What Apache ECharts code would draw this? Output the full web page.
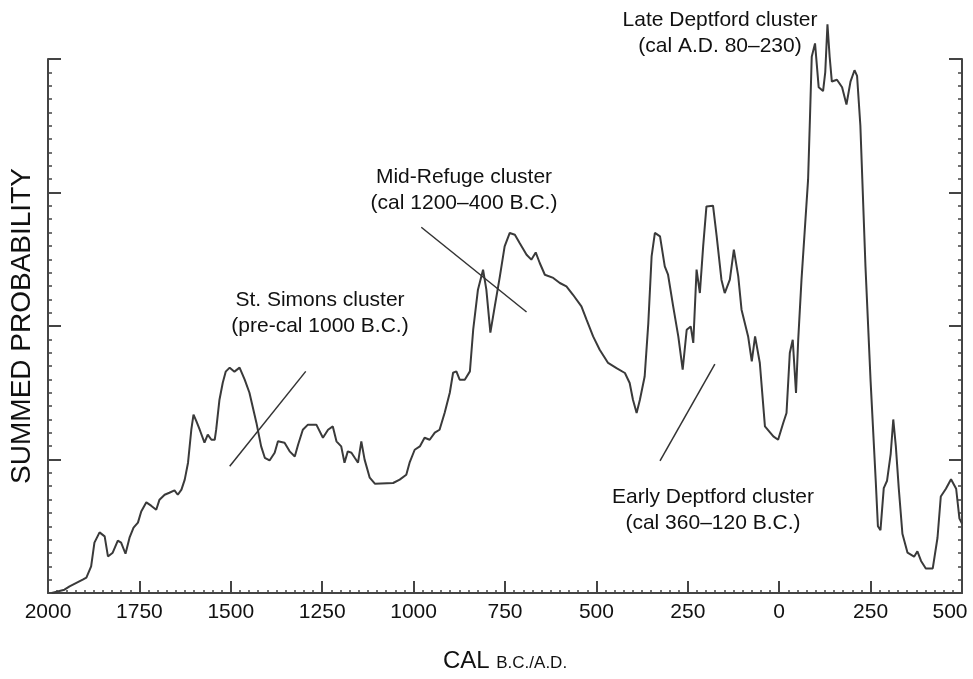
<!DOCTYPE html>
<html><head><meta charset="utf-8">
<script src="https://cdn.jsdelivr.net/npm/echarts@6/dist/echarts.min.js"></script>
<style>html,body{margin:0;padding:0;background:#fff}#c{width:973px;height:679px}</style>
</head><body><div id="c"></div>
<script>
// calendar years (B.C. negative, A.D. positive)
const years = [-1990,-1955,-1941,-1905,-1895,-1882,-1873,-1859,-1845,-1836,
-1823,-1809,-1800,-1788,-1777,-1766,-1754,-1745,-1731,-1718,
-1704,-1695,-1681,-1668,-1654,-1645,-1635,-1626,-1617,-1608,
-1602,-1594,-1585,-1572,-1563,-1553,-1544,-1540,-1531,-1522,
-1514,-1503,-1490,-1476,-1462,-1449,-1430,-1417,-1407,-1394,
-1380,-1371,-1353,-1339,-1325,-1316,-1303,-1289,-1266,-1248,
-1234,-1221,-1211,-1198,-1189,-1180,-1170,-1161,-1152,-1143,
-1138,-1134,-1120,-1106,-1056,-1038,-1020,-1011,-997,-983,
-970,-956,-942,-929,-915,-901,-892,-883,-874,-860,
-846,-837,-824,-810,-801,-790,-778,-764,-751,-737,
-723,-710,-691,-678,-666,-655,-641,-618,-600,-582,
-564,-541,-527,-509,-491,-468,-445,-422,-409,-400,
-390,-381,-368,-358,-349,-340,-326,-313,-304,-290,
-276,-264,-253,-242,-235,-226,-217,-208,-199,-181,
-171,-158,-149,-135,-124,-112,-103,-85,-75,-66,
-53,-39,-16,-3,11,20,29,37,46,52,
61,70,79,84,89,98,108,120,126,132,
138,144,158,172,184,195,206,213,222,236,
250,264,270,277,286,295,305,312,319,327,
337,351,369,378,388,401,420,433,442,456,
470,484,493,500];
// summed probability (in major-tick units)
const prob = [0,0.025,0.05,0.10,0.115,0.20,0.377,0.454,0.424,0.274,
0.302,0.392,0.377,0.294,0.414,0.489,0.527,0.611,0.679,0.654,
0.624,0.699,0.736,0.751,0.769,0.736,0.774,0.849,0.976,1.223,
1.336,1.285,1.223,1.126,1.186,1.148,1.148,1.223,1.448,1.575,
1.658,1.688,1.658,1.688,1.598,1.500,1.276,1.098,1.013,0.993,
1.051,1.136,1.126,1.061,1.023,1.111,1.223,1.261,1.261,1.163,
1.223,1.248,1.136,1.098,0.976,1.061,1.051,1.013,0.976,1.136,
1.148,0.999,0.864,0.819,0.824,0.849,0.886,0.976,1.073,1.098,
1.163,1.148,1.201,1.223,1.350,1.500,1.650,1.660,1.598,1.598,
1.660,1.972,2.272,2.422,2.272,1.950,2.147,2.372,2.596,2.697,
2.684,2.622,2.534,2.497,2.551,2.472,2.384,2.360,2.322,2.297,
2.234,2.147,2.047,1.922,1.822,1.723,1.685,1.648,1.573,1.448,
1.348,1.448,1.622,2.022,2.521,2.697,2.671,2.446,2.384,2.147,
1.922,1.673,1.972,1.997,1.873,2.422,2.247,2.596,2.896,2.901,
2.671,2.347,2.247,2.347,2.572,2.372,2.122,1.922,1.735,1.922,
1.723,1.248,1.173,1.148,1.273,1.348,1.798,1.897,1.498,1.897,
2.347,2.721,3.096,3.545,4.017,4.117,3.788,3.760,3.902,4.260,
4.017,3.831,3.845,3.788,3.659,3.831,3.916,3.873,3.502,2.444,
1.587,0.843,0.500,0.471,0.786,0.841,1.043,1.300,1.100,0.786,
0.444,0.302,0.272,0.312,0.240,0.184,0.184,0.414,0.723,0.781,
0.852,0.781,0.557,0.52];
const xTickLabels = ['2000','1750','1500','1250','1000','750','500','250','0','250','500'];
const yAxisTitle = 'SUMMED PROBABILITY';
const xAxisTitle = ['CAL ', 'B.C./A.D.'];
const annotationTexts = [
  ['St. Simons cluster', '(pre-cal 1000 B.C.)'],
  ['Mid-Refuge cluster', '(cal 1200\u2013400 B.C.)'],
  ['Early Deptford cluster', '(cal 360\u2013120 B.C.)'],
  ['Late Deptford cluster', '(cal A.D. 80\u2013230)']
];
// leader lines: [yearStart, probStart, yearEnd, probEnd]
const leaderLines = [
  [-1503, 0.95, -1295, 1.66],
  [-979, 2.74, -691, 2.105],
  [-326, 0.99, -176, 1.715],
  [-31, 4.02, 150, 3.40]
];

const FONT = '"Liberation Sans", Arial, Helvetica, sans-serif';
const data = years.map((y, i) => [y, prob[i]]);
const chart = echarts.init(document.getElementById('c'), null, {renderer: 'canvas'});
const axisCol = '#444';
const baseYAxis = {
  type: 'value', min: 0, max: 4, interval: 1,
  axisLine: {show: true, onZero: false, lineStyle: {color: axisCol, width: 2}},
  axisTick: {show: true, inside: true, length: 13, lineStyle: {color: axisCol, width: 2}},
  minorTick: {show: true, splitNumber: 10, length: 4, lineStyle: {color: axisCol, width: 1.5}},
  axisLabel: {show: false},
  splitLine: {show: false}, minorSplitLine: {show: false}
};
const annPos = [[320, 313], [464, 190], [713, 510], [720, 33]];
chart.setOption({
  backgroundColor: '#fff',
  animation: false,
  grid: {left: 48, right: 11, top: 59, bottom: 86, containLabel: false},
  xAxis: {
    type: 'value', min: -2000, max: 500, interval: 250,
    axisLine: {show: true, onZero: false, lineStyle: {color: axisCol, width: 2}},
    axisTick: {show: true, inside: true, length: 12, lineStyle: {color: axisCol, width: 2}},
    minorTick: {show: true, splitNumber: 10, length: 3, lineStyle: {color: axisCol, width: 1.5}},
    splitLine: {show: false}, minorSplitLine: {show: false},
    axisLabel: {
      margin: 9, fontSize: 21, color: '#111', fontFamily: FONT,
      formatter: function (v) {
        const i = Math.round((v + 2000) / 250);
        const t = xTickLabels[i];
        return v === 500 ? '{last|' + t + '}' : t;
      },
      rich: {last: {fontSize: 21, color: '#111', fontFamily: FONT, padding: [0, 24, 0, 0]}}
    },
    name: '{a|' + xAxisTitle[0] + '}{b|' + xAxisTitle[1] + '}',
    nameLocation: 'middle', nameGap: 56,
    nameTextStyle: {
      rich: {
        a: {fontSize: 24, color: '#111', fontFamily: FONT},
        b: {fontSize: 17, color: '#111', fontFamily: FONT, padding: [4, 0, 0, 0]}
      }
    }
  },
  yAxis: [
    Object.assign({}, baseYAxis, {
      position: 'left', name: yAxisTitle, nameLocation: 'middle', nameGap: 12,
      nameTextStyle: {fontSize: 28, color: '#111', fontFamily: FONT}
    }),
    Object.assign({}, baseYAxis, {position: 'right'})
  ],
  graphic: annotationTexts.map((t, i) => ({
    type: 'text', x: annPos[i][0], y: annPos[i][1], silent: true,
    style: {text: t.join('\n'), fill: '#111', font: '21px ' + FONT, lineHeight: 26,
      align: 'center', verticalAlign: 'middle'}
  })),
  series: [{
    type: 'line', data: data, showSymbol: false, clip: false, smooth: false,
    lineStyle: {color: '#3a3a3a', width: 2},
    markLine: {
      silent: true, symbol: 'none', animation: false,
      lineStyle: {color: '#333', width: 1.5, type: 'solid'},
      label: {show: false},
      data: leaderLines.map(l => [{coord: [l[0], l[1]]}, {coord: [l[2], l[3]]}])
    }
  }]
});
</script></body></html>
